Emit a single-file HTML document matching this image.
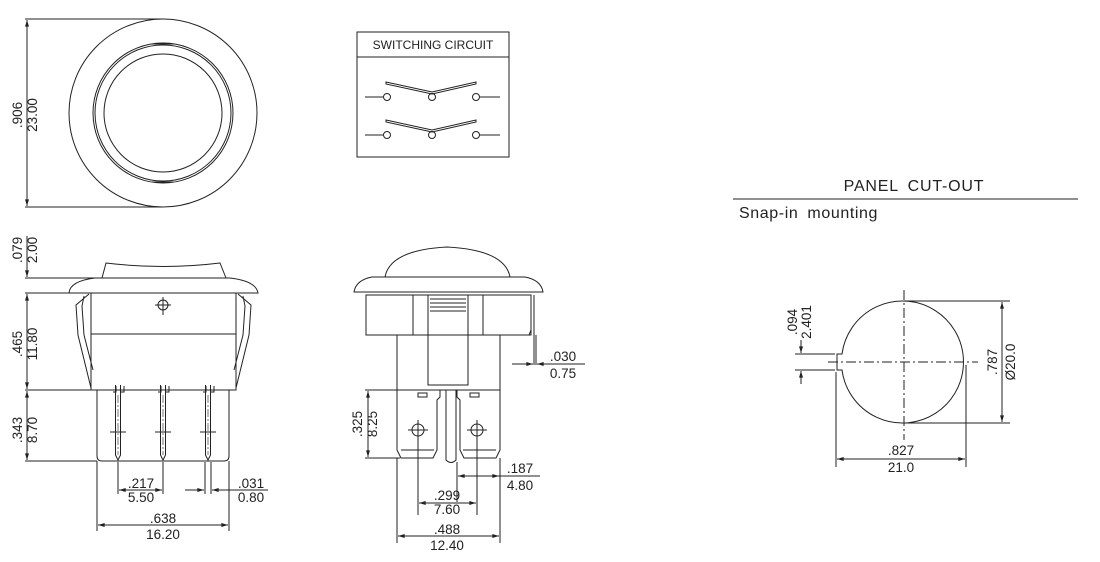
<!DOCTYPE html>
<html><head><meta charset="utf-8"><style>
html,body{margin:0;padding:0;background:#fff;}
svg{display:block;font-family:"Liberation Sans",Arial,sans-serif;}
text{fill:#222;}
</style></head><body>
<svg width="1100" height="562" viewBox="0 0 1100 562" xmlns="http://www.w3.org/2000/svg">
<defs>
<marker id="a" viewBox="0 0 10 6" refX="10" refY="3" markerWidth="8" markerHeight="4" orient="auto-start-reverse"><path d="M0,0L10,3L0,6z" fill="#222"/></marker>
</defs>
<g fill="none" stroke="#222" stroke-width="1">
<circle cx="163" cy="113" r="94"/>
<circle cx="163" cy="113" r="70"/>
<circle cx="163" cy="113" r="68"/>
<circle cx="163" cy="113" r="59"/>
<path d="M152,44 h22 M152,182 h22"/>
<line x1="25" y1="19" x2="163" y2="19"/><line x1="25" y1="207" x2="163" y2="207"/>
<line x1="27" y1="20" x2="27" y2="206" marker-start="url(#a)" marker-end="url(#a)"/>

<rect x="357" y="32" width="152" height="125"/>
<line x1="357" y1="57" x2="509" y2="57"/>
<circle cx="387" cy="97" r="3.5"/><circle cx="432" cy="97" r="3.5"/><circle cx="476" cy="97" r="3.5"/>
<circle cx="387" cy="135" r="3.5"/><circle cx="432" cy="135" r="3.5"/><circle cx="476" cy="135" r="3.5"/>
<path d="M365,97h18 M480,97h20 M365,135h18 M480,135h20"/>
<path d="M386,82 L432,92 L476,82 L476,84 L432,94 L386,84 z"/>
<path d="M386,120 L432,130 L476,120 L476,122 L432,132 L386,122 z"/>

<path d="M102,278 L106,263 Q163,270 220,263 L226,278"/>
<path d="M69,293 Q70,281 95,278 L230,278 Q256,281 258,293 Z"/>
<rect x="91" y="293" width="145" height="97"/>
<line x1="91" y1="334" x2="236" y2="334"/>
<path d="M89,294 L76,305 L78,335 L91,388 M84,296 L82,306 L84,335 L93,370"/>
<path d="M238,294 L251,305 L249,335 L236,388 M243,296 L245,306 L243,335 L234,370"/>
<circle cx="163" cy="305" r="5"/><path d="M163,297v18 M155,305h16"/>
<path d="M97,390 V456 Q97,461 102,461 H224 Q229,461 229,456 V390"/>
<g>
<path d="M115.5,385 V455 L118,460 L120.5,455 V385 M113,392h3v-6 M120,392h4v-6 M110,432h16"/>
<path d="M160.5,385 V455 L163,460 L165.5,455 V385 M158,392h3v-6 M165,392h4v-6 M155,432h16"/>
<path d="M205.5,385 V455 L208,460 L210.5,455 V385 M203,392h3v-6 M210,392h4v-6 M200,432h16"/>
<path d="M118,395v60 M163,395v60 M208,395v60" stroke-width="0.6" stroke-dasharray="8,2,2,2"/>
</g>
<line x1="25" y1="278" x2="100" y2="278"/><line x1="25" y1="293" x2="69" y2="293"/>
<line x1="25" y1="390" x2="91" y2="390"/><line x1="25" y1="461" x2="97" y2="461"/>
<line x1="27" y1="236" x2="27" y2="277" marker-end="url(#a)"/>
<line x1="27" y1="294" x2="27" y2="389" marker-start="url(#a)" marker-end="url(#a)"/>
<line x1="27" y1="391" x2="27" y2="460" marker-start="url(#a)" marker-end="url(#a)"/>
<path d="M118,462v32 M163,462v32 M97,461v70 M229,461v70 M205,462v32 M211,462v32"/>
<line x1="119" y1="490" x2="162" y2="490" marker-start="url(#a)" marker-end="url(#a)"/>
<line x1="185" y1="490" x2="204" y2="490" marker-end="url(#a)"/>
<line x1="268" y1="490" x2="212" y2="490" marker-end="url(#a)"/>
<line x1="98" y1="525" x2="228" y2="525" marker-start="url(#a)" marker-end="url(#a)"/>

<path d="M385,277 Q390,250 447,247 Q505,250 510,277"/>
<path d="M354,292 Q356,280 372,277 L525,277 Q541,280 543,292 Z"/>
<rect x="366" y="295" width="165" height="40"/>
<path d="M413,295v40 M483,295v40 M531,295v35 l-2,5"/>
<path d="M534,295v70 M536,335v30"/>
<rect x="428" y="295" width="40" height="90"/>
<path d="M430,299h36 M430,303h36 M430,307h36 M430,311h36"/>
<path d="M397,335 V390 H500 V335"/>
<path d="M397,390 V450 L401,458 H433 L437,450 V400 L440,397 V390"/>
<path d="M500,390 V450 L496,458 H464 L460,450 V400 L457,397 V390"/>
<path d="M401,450h33 M463,450h33"/>
<path d="M446,390 V460 Q451,465 456,460 V390"/>
<path d="M418,397h9v-4h-9z M470,397h9v-4h-9z"/>
<circle cx="418" cy="430" r="6"/><path d="M408,430h20 M418,420v95"/>
<circle cx="477" cy="430" r="6"/><path d="M467,430h20 M477,420v95"/>
<line x1="365" y1="390" x2="397" y2="390"/><line x1="365" y1="458" x2="400" y2="458"/>
<line x1="368" y1="391" x2="368" y2="457" marker-start="url(#a)" marker-end="url(#a)"/>
<line x1="512" y1="364" x2="533" y2="364" marker-end="url(#a)"/>
<line x1="585" y1="364" x2="537" y2="364" marker-end="url(#a)"/>
<path d="M457,462v40 M500,458v85 M397,458v85"/>
<line x1="458" y1="476" x2="499" y2="476" marker-start="url(#a)" marker-end="url(#a)"/>
<line x1="499" y1="476" x2="540" y2="476"/>
<line x1="419" y1="503" x2="476" y2="503" marker-start="url(#a)" marker-end="url(#a)"/>
<line x1="398" y1="536" x2="499" y2="536" marker-start="url(#a)" marker-end="url(#a)"/>

<line x1="733" y1="199" x2="1078" y2="199"/>
<path d="M842,354 A61,61 0 1,1 842,370 L837,370 L837,354 Z"/>
<path d="M904,290 v150" stroke-dasharray="10,3,2,3"/>
<path d="M828,362 h150" stroke-dasharray="10,3,2,3"/>
<line x1="904" y1="301" x2="1010" y2="301"/><line x1="904" y1="423" x2="1010" y2="423"/>
<line x1="1002" y1="302" x2="1002" y2="422" marker-start="url(#a)" marker-end="url(#a)"/>
<line x1="795" y1="354" x2="835" y2="354"/><line x1="795" y1="370" x2="835" y2="370"/>
<line x1="801" y1="340" x2="801" y2="353" marker-end="url(#a)"/>
<line x1="801" y1="384" x2="801" y2="371" marker-end="url(#a)"/>
<path d="M836,372v95 M966,365v102"/>
<line x1="837" y1="459" x2="965" y2="459" marker-start="url(#a)" marker-end="url(#a)"/>
</g>
<g font-size="13.5" text-anchor="middle">
<text transform="translate(22,115) rotate(-90)">.906</text>
<text transform="translate(37,115) rotate(-90)">23.00</text>
<text transform="translate(22,250) rotate(-90)">.079</text>
<text transform="translate(37,250) rotate(-90)">2.00</text>
<text transform="translate(22,344) rotate(-90)">.465</text>
<text transform="translate(37,344) rotate(-90)">11.80</text>
<text transform="translate(22,430) rotate(-90)">.343</text>
<text transform="translate(37,430) rotate(-90)">8.70</text>
<text x="141" y="488">.217</text><text x="141" y="502">5.50</text>
<text x="251" y="488">.031</text><text x="251" y="502">0.80</text>
<text x="163" y="523">.638</text><text x="163" y="539">16.20</text>
<text transform="translate(362,424) rotate(-90)">.325</text>
<text transform="translate(377,424) rotate(-90)">8.25</text>
<text x="563" y="361">.030</text><text x="563" y="378">0.75</text>
<text x="520" y="473">.187</text><text x="520" y="490">4.80</text>
<text x="447" y="500">.299</text><text x="447" y="514">7.60</text>
<text x="447" y="534">.488</text><text x="447" y="550">12.40</text>
<text transform="translate(797,322) rotate(-90)">.094</text>
<text transform="translate(811,322) rotate(-90)">2.401</text>
<text transform="translate(997,362) rotate(-90)">.787</text>
<text transform="translate(1015,362) rotate(-90)">Ø20.0</text>
<text x="901" y="455">.827</text><text x="901" y="472">21.0</text>
<text x="433" y="49" font-size="12">SWITCHING CIRCUIT</text>
<text x="914" y="191" font-size="16" letter-spacing="0.8" word-spacing="4">PANEL CUT-OUT</text>
<text x="739" y="218" font-size="16" text-anchor="start" letter-spacing="0.6" word-spacing="4">Snap-in mounting</text>
</g>
</svg>
</body></html>
